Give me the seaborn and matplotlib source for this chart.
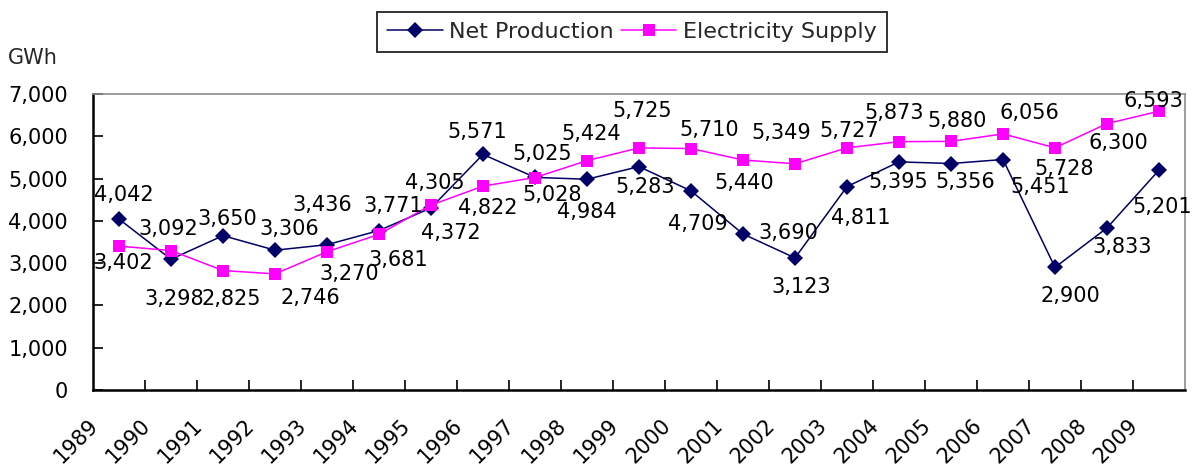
import numpy as np
import pandas as pd
import matplotlib
matplotlib.use("Agg")
import matplotlib.pyplot as plt
from matplotlib.ticker import FuncFormatter, FixedLocator
import seaborn as sns

# ---- data ----
years = ["1989", "1990", "1991", "1992", "1993", "1994", "1995", "1996", "1997", "1998",
         "1999", "2000", "2001", "2002", "2003", "2004", "2005", "2006", "2007", "2008", "2009"]
net_production = [4042, 3092, 3650, 3306, 3436, 3771, 4305, 5571, 5028, 4984,
                  5283, 4709, 3690, 3123, 4811, 5395, 5356, 5451, 2900, 3833, 5201]
electricity_supply = [3402, 3298, 2825, 2746, 3270, 3681, 4372, 4822, 5025, 5424,
                      5725, 5710, 5440, 5349, 5727, 5873, 5880, 6056, 5728, 6300, 6593]
series_names = ["Net Production", "Electricity Supply"]
unit_label = "GWh"
y_ticks = [0, 1000, 2000, 3000, 4000, 5000, 6000, 7000]

# label placement offsets (pixels: dx right, dy down) relative to each point
net_offsets = [(5, -24), (-3, -30), (4, -17), (14, -21), (-5, -40), (14, -25), (4, -25),
               (-6, -22), (17, 18), (0, 33), (6, 20), (7, 33), (45, -1), (6, 29),
               (14, 31), (-1, 20), (14, 18), (37, 27), (15, 29), (15, 19), (3, 37)]
supply_offsets = [(4, 17), (3, 48), (8, 28), (35, 24), (22, 22), (19, 26), (20, 28),
                  (5, 22), (7, -24), (4, -27), (3, -37), (18, -19), (1, 23), (-14, -31),
                  (2, -17), (-5, -29), (6, -20), (26, -21), (9, 21), (11, 19), (-6, -10)]

NAVY = "#000066"
MAGENTA = "#FF00FF"

sns.set_theme(style="white")
plt.rcParams["font.family"] = ["DejaVu Sans"]

pos = np.arange(len(years))
df = pd.DataFrame({
    "pos": np.concatenate([pos, pos]),
    "value": net_production + electricity_supply,
    "series": [series_names[0]] * len(years) + [series_names[1]] * len(years),
})

fig = plt.figure(figsize=(11.93, 4.70), dpi=100)
ax = fig.add_axes([93 / 1193, 1 - 390 / 470, (1185 - 93) / 1193, (390 - 94) / 470])

sns.lineplot(data=df, x="pos", y="value", hue="series", style="series",
             palette={series_names[0]: NAVY, series_names[1]: MAGENTA},
             markers={series_names[0]: "D", series_names[1]: "s"},
             dashes=False, linewidth=1.1, markersize=8, markeredgewidth=0,
             ax=ax, legend=True)
for line in ax.get_lines():
    if line.get_marker() == "s":
        line.set_markersize(9)
    else:
        line.set_markersize(8)

# data labels
for i, v in enumerate(net_production):
    dx, dy = net_offsets[i]
    ax.annotate(f"{v:,}", (pos[i], v), xytext=(dx, -dy), textcoords="offset pixels",
                ha="center", va="center", fontsize=15, color="black", zorder=5)
for i, v in enumerate(electricity_supply):
    dx, dy = supply_offsets[i]
    ax.annotate(f"{v:,}", (pos[i], v), xytext=(dx, -dy), textcoords="offset pixels",
                ha="center", va="center", fontsize=15, color="black", zorder=5)

ax.set_xlim(-0.5, len(years) - 0.5)
ax.set_ylim(0, 7000)
ax.set_xlabel("")
ax.set_ylabel("")

# y axis
ax.set_yticks(y_ticks)
ax.yaxis.set_major_formatter(FuncFormatter(lambda v, p: f"{int(v):,}"))
ax.tick_params(axis="y", direction="in", length=7, width=1.2, pad=18,
               labelsize=15, left=True, colors="black")

# x axis: tick marks on category boundaries, labels offset (rotated)
ax.xaxis.set_major_locator(FixedLocator(pos - 0.32))
ax.set_xticklabels(years)
ax.xaxis.set_minor_locator(FixedLocator(np.arange(0.5, len(years) - 1, 1.0)))
ax.tick_params(axis="x", which="major", length=0, pad=18, labelsize=15, labelcolor="black")
ax.tick_params(axis="x", which="minor", direction="in", length=7, width=1.2,
               bottom=True, color="black")
for lab in ax.get_xticklabels():
    lab.set_rotation(45)
    lab.set_ha("right")
    lab.set_va("top")

# spines
for s in ["left", "bottom"]:
    ax.spines[s].set_color("black")
    ax.spines[s].set_linewidth(1.8)
for s in ["top", "right"]:
    ax.spines[s].set_color("#8c8c8c")
    ax.spines[s].set_linewidth(1.2)
ax.grid(False)

# legend
handles, labels = ax.get_legend_handles_labels()
ax.get_legend().remove()
leg = fig.legend(handles, labels, loc="center", bbox_to_anchor=(632 / 1193, 1 - 32 / 470),
                 ncol=2, frameon=True, fancybox=False, edgecolor="black",
                 fontsize=16, handlelength=2.5, columnspacing=0.3, handletextpad=0.3,
                 borderpad=0.45, borderaxespad=0)
leg.get_frame().set_linewidth(1.4)

fig.text(8 / 1193, 1 - 58 / 470, unit_label, ha="left", va="center", fontsize=15)

fig.savefig("out.png", dpi=100)
